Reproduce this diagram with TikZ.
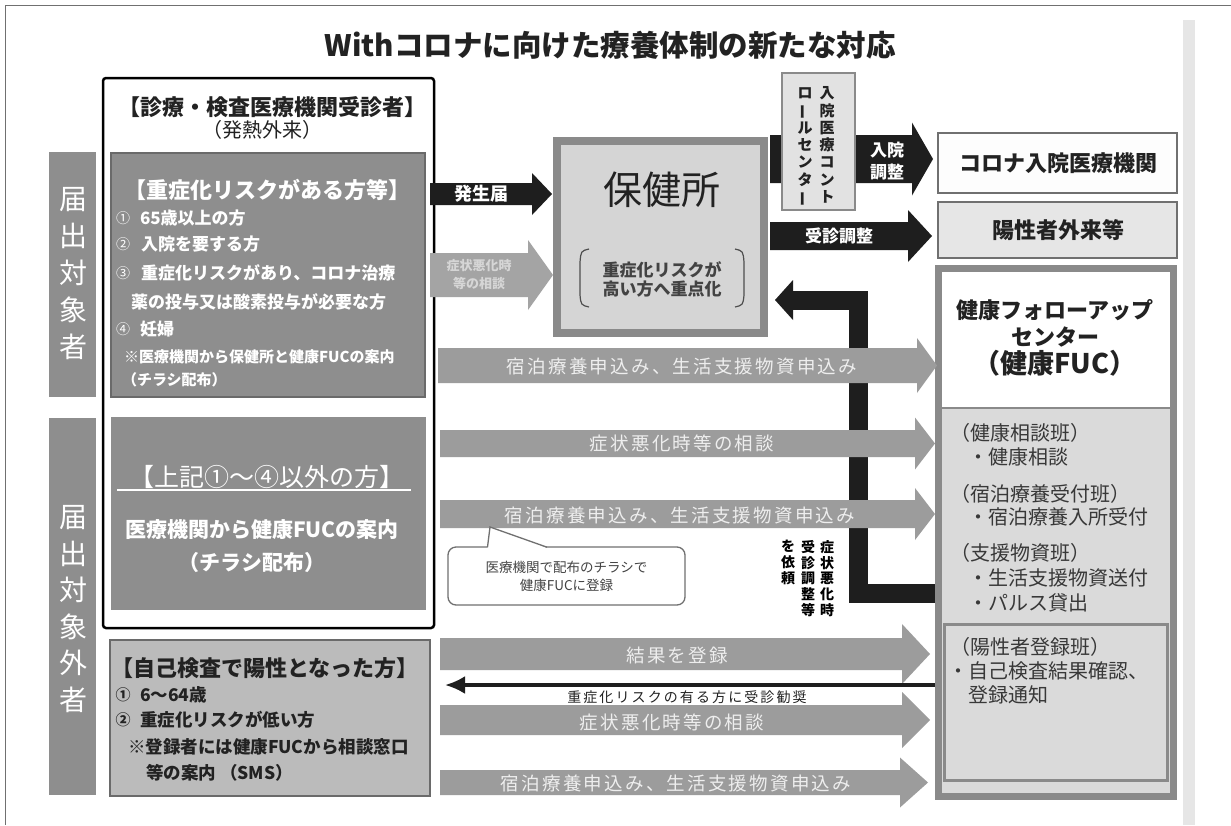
\documentclass[tikz,border=0pt]{standalone}
\usepackage{fontspec}
\setmainfont{Noto Sans CJK JP}
\usepackage{graphicx}
\usetikzlibrary{arrows.meta}
\newcommand\jfs[2]{\fontsize{#1pt}{#2pt}\selectfont}
\newcommand\vbar{\smash{\rotatebox[origin=c]{90}{ー}}}
\newcommand\lsp[1]{\addfontfeature{LetterSpace=#1}}
\definecolor{dgray}{HTML}{8E8E8E}
\definecolor{dborder}{HTML}{6A6A6A}
\definecolor{agray}{HTML}{9C9C9C}
\definecolor{sgray}{HTML}{A4A4A4}
\definecolor{atext}{HTML}{EEEEEE}
\definecolor{lgray}{HTML}{D5D5D5}
\definecolor{mborder}{HTML}{8A8A8A}
\definecolor{pale}{HTML}{E2E2E2}
\definecolor{fucfill}{HTML}{DADADA}
\definecolor{selfgray}{HTML}{BBBBBB}
\definecolor{blk}{HTML}{1E1E1E}
\definecolor{strip}{HTML}{E6E6E6}
\definecolor{framec}{HTML}{707070}
\definecolor{ink}{HTML}{222222}
\tikzset{
  boxn/.style={anchor=north west, inner sep=0pt, outer sep=0pt},
  txt/.style={inner sep=0pt, outer sep=0pt},
  wtxt/.style={txt, text=white},
  ktxt/.style={txt, text=ink},
  atxt/.style={txt, text=atext, font=\jfs{18.5}{22}\lsp{12}},
}
\newcommand\boxn[6]{\node[boxn,#6,minimum width={(#4)-(#2)},minimum height={(#5)-(#3)}] (#1) at (#2,#3) {};}
\newcommand\barr[8]{%
  \fill[#2] (#3,#5-#6) -- ({#4-#8},#5-#6) -- ({#4-#8},#5-#7) -- (#4,#5) -- ({#4-#8},#5+#7) -- ({#4-#8},#5+#6) -- (#3,#5+#6) -- cycle;
  \coordinate (#1) at ({(#3+#4-#8)/2},#5);}
\begin{document}
\begin{tikzpicture}[x=1pt,y=-1pt]
\useasboundingbox (0,0) rectangle (1231,825);
\fill[white] (0,0) rectangle (1231,825);
\draw[framec, line width=1.2] (5.5,825) -- (5.5,5.5) -- (1231,5.5);
\fill[strip] (1183,20) rectangle (1195,825);

% title
\node[ktxt, font=\bfseries\jfs{29.5}{34}] (title) at (610,45) {Withコロナに向けた療養体制の新たな対応};

% left big box and inner boxes
\boxn{big}{103}{78}{434}{628}{draw=black, line width=2.5, rounded corners=3, fill=white}
\boxn{risk}{111}{153}{425}{397}{draw=dborder, line width=2, fill=dgray}
\boxn{other}{111}{417}{426}{610}{fill=dgray}
\boxn{self}{110}{640}{430}{796}{draw=dborder, line width=1.5, fill=selfgray}
\boxn{lab1}{49}{152}{96}{397}{fill=dgray}
\boxn{lab2}{49}{418}{96}{795}{fill=dgray}

% right side boxes
\boxn{hc}{557}{141}{764}{333}{draw=mborder, line width=8, fill=lgray}
\boxn{fuc}{938.5}{268.5}{1173.5}{796.5}{draw=mborder, line width=7, fill=fucfill}
\fill[white] (942,272) rectangle (1170,407);
\draw[mborder, line width=2] (942,408) -- (1170,408);
\boxn{posreg}{944}{624}{1167}{780}{draw=mborder, line width=3}

% black L arrow (behind gray arrows)
\coordinate (L1) at (935,593.5);
\coordinate (L2) at (858,593.5);
\coordinate (L3) at (858,300);
\coordinate (L4) at (792,300);
\draw[blk, line width=19, line join=miter] (L1) -- (L2) -- (L3) -- (L4);
\fill[blk] (793,280) -- (775,300) -- (793,320) -- cycle;

% block arrows
\barr{aHassei}{blk}{430}{552}{194}{11}{21}{20}
\barr{aSmall}{sgray}{430}{553}{275}{22}{35}{25}
\barr{aNyuin}{blk}{770}{933}{159}{24}{36.5}{21}
\barr{aJushin}{blk}{770}{932}{236}{14}{26}{24}
\barr{aL1}{agray}{438}{937}{365.5}{17.5}{27.5}{20}
\barr{aL2}{agray}{440}{935}{443.5}{13.5}{26}{20}
\barr{aL3}{agray}{440}{935}{514}{14}{26}{20}
\barr{aL4}{agray}{440}{930}{654}{16}{30}{28}
\barr{aL5}{agray}{440}{930}{720}{15}{28}{28}
\barr{aL6}{agray}{440}{928}{782.5}{12.5}{25}{28}

% control center box (on top of arrow)
\boxn{ctrl}{782}{73}{855}{210}{draw=mborder, line width=2, fill=pale}
\boxn{corona}{938}{133}{1177}{193}{draw=framec, line width=2, fill=pale!92!black!4}
\boxn{gairai}{938}{202}{1177}{258}{draw=framec, line width=2, fill=lgray!60!white}

% thin black arrow
\coordinate (kS) at (935,685);
\coordinate (kE) at (445,685);
\draw[blk, line width=3.5, -{Latex[length=20pt,width=18pt]}] (kS) -- (kE);

% callout
\node[txt, draw=framec, line width=1.3, fill=white, rounded corners=8, minimum width=237, minimum height=58, align=center, text=ink!85, font=\jfs{13.5}{18}] (call) at (566.5,576) {医療機関で配布のチラシで\\健康FUCに登録};
\coordinate (tip) at (490,527);
\fill[white] (487.5,548) -- (tip) -- (547,548) -- cycle;
\draw[framec, line width=1.3] (487.5,547.2) -- (tip) -- (547,547.2);

% brackets in hc
\draw[ink!80, line width=1.2] (589,249) .. controls (581,251) .. (580,262) -- (580,295) .. controls (581,305) .. (589,307);
\draw[ink!80, line width=1.2] (735,249) .. controls (743,251) .. (744,262) -- (744,295) .. controls (743,305) .. (735,307);

% ---------- texts ----------
\node[ktxt, font=\bfseries\jfs{22}{26}] (bh1) at (272,107) {【診療・検査医療機関受診者】};
\node[ktxt, font=\jfs{20}{24}] (bh2) at (262,130) {（発熱外来）};

\node[wtxt, font=\bfseries\jfs{22}{26}] (rt) at (267,190) {【重症化リスクがある方等】};
\foreach \y/\c in {218/①,244/②,273/③,329/④} \node[wtxt, font=\jfs{14}{16}] at (123,\y) {\c};
\node[wtxt, anchor=west, font=\bfseries\jfs{17}{20}] (r1) at (140,218) {65歳以上の方};
\node[wtxt, anchor=west, font=\bfseries\jfs{17}{20}] (r2) at (141,244) {入院を要する方};
\node[wtxt, anchor=west, font=\bfseries\jfs{17}{20}] (r3) at (141,273) {重症化リスクがあり、コロナ治療};
\node[wtxt, anchor=west, font=\bfseries\jfs{17}{20}] (r3b) at (131,302) {薬の投与又は酸素投与が必要な方};
\node[wtxt, anchor=west, font=\bfseries\jfs{17}{20}] (r4) at (140,329) {妊婦};
\node[wtxt, anchor=west, font=\bfseries\jfs{15}{18}] (r5) at (124,357) {※医療機関から保健所と健康FUCの案内};
\node[wtxt, anchor=west, font=\bfseries\jfs{15}{18}] (r6) at (122,380) {（チラシ配布）};

\node[wtxt, font=\jfs{25}{28}] (ot) at (267,477) {【上記①～④以外の方】};
\draw[white, line width=1.5] (117,490) -- (411,490);
\node[wtxt, font=\bfseries\jfs{21}{24}] (o1) at (262,530) {医療機関から健康FUCの案内};
\node[wtxt, font=\bfseries\jfs{21}{24}] (o2) at (252,563) {（チラシ配布）};

\node[ktxt, font=\bfseries\jfs{22}{26}] (st) at (265,668) {【自己検査で陽性となった方】};
\node[ktxt, font=\bfseries\jfs{15}{18}] at (123,695) {①};
\node[ktxt, font=\bfseries\jfs{15}{18}] at (123,720) {②};
\node[ktxt, anchor=west, font=\bfseries\jfs{17.5}{20}] (s1) at (140,695) {6～64歳};
\node[ktxt, anchor=west, font=\bfseries\jfs{17.5}{20}] (s2) at (140,720) {重症化リスクが低い方};
\node[ktxt, anchor=west, font=\bfseries\jfs{17.5}{20}] (s3) at (128,747) {※登録者には健康FUCから相談窓口};
\node[ktxt, anchor=west, font=\bfseries\jfs{17.5}{20}] (s4) at (146,773) {等の案内 （SMS）};

\node[wtxt, align=center, font=\jfs{28}{37}] (l1) at (73,274) {届\\出\\対\\象\\者};
\node[wtxt, align=center, font=\jfs{28}{36.5}] (l2) at (73,609) {届\\出\\対\\象\\外\\者};

\node[ktxt, font=\jfs{39}{40}] (hct) at (662,190) {保健所};
\node[txt, text=ink!85, align=center, font=\bfseries\jfs{17}{19}] (hcs) at (662,279) {重症化リスクが\\高い方へ重点化};

\node[wtxt, font=\bfseries\jfs{18}{20}] at (aHassei) {発生届};
\node[txt, text=atext!90!black, align=center, font=\bfseries\jfs{13}{18}] at (aSmall) {症状悪化時\\等の相談};
\node[wtxt, align=center, font=\bfseries\jfs{17}{22}] at (887,161) {入院\\調整};
\node[wtxt, font=\bfseries\jfs{17}{20}] at (aJushin) {受診調整};

\node[ktxt, align=center, font=\bfseries\jfs{15}{17.3}] (c1) at (827,145) {入\\院\\医\\療\\コ\\ン\\ト};
\node[ktxt, align=center, font=\bfseries\jfs{15}{17.3}] (c2) at (805,145) {ロ\\\vbar\\ル\\セ\\ン\\タ\\\vbar};

\node[ktxt, font=\bfseries\jfs{22}{26}] (cot) at (1058,163) {コロナ入院医療機関};
\node[ktxt, font=\bfseries\jfs{22}{26}] (gat) at (1058,230) {陽性者外来等};

\node[ktxt, font=\bfseries\jfs{22}{26}] (f1) at (1055,310) {健康フォローアップ};
\node[ktxt, font=\bfseries\jfs{22}{26}] (f2) at (1055,337) {センター};
\node[ktxt, font=\bfseries\jfs{27}{30}] (f3) at (1055,363) {（健康FUC）};
\foreach \y/\t/\x in {433/（健康相談班）/950, 457/・健康相談/968, 494/（宿泊療養受付班）/950, 517/・宿泊療養入所受付/968, 553/（支援物資班）/950, 578/・生活支援物資送付/968, 603/・パルス貸出/968, 647/（陽性者登録班）/950, 671/・自己検査結果確認、/948, 695/登録通知/968}
  \node[txt, text=ink!90, anchor=west, font=\jfs{20}{24}] at (\x,\y) {\t};

\node[atxt] at (682,366) {宿泊療養申込み、生活支援物資申込み};
\node[atxt] at (682,443) {症状悪化時等の相談};
\node[atxt] at (680,515) {宿泊療養申込み、生活支援物資申込み};
\node[atxt] at (677,655) {結果を登録};
\node[atxt] at (672,722) {症状悪化時等の相談};
\node[atxt] at (676,783) {宿泊療養申込み、生活支援物資申込み};
\node[ktxt, font=\jfs{14}{16}\lsp{15}] (klab) at (687,697) {重症化リスクの有る方に受診勧奨};

\node[txt, text=black, align=center, font=\bfseries\jfs{14}{15.8}] (v1) at (827,578.5) {症\\状\\悪\\化\\時};
\node[txt, text=black, align=center, font=\bfseries\jfs{14}{15.8}] (v2) at (808,578.5) {受\\診\\調\\整\\等};
\node[txt, text=black, align=center, font=\bfseries\jfs{14}{15.8}] (v3) at (788,562.5) {を\\依\\頼};
\end{tikzpicture}
\end{document}
